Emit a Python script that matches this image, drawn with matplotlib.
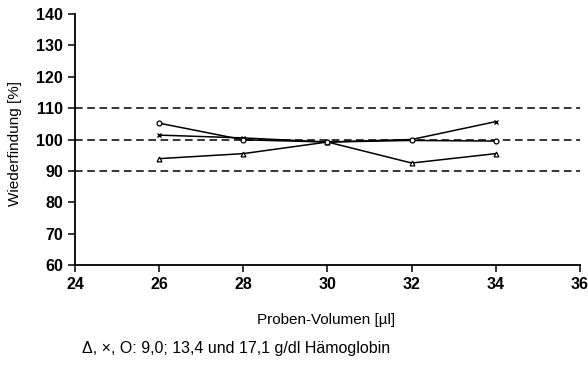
import matplotlib.pyplot as plt

plt.rcParams['font.family'] = ['Liberation Sans', 'DejaVu Sans']

volumen = [26, 28, 30, 32, 34]
hb_9_0 = [93.9, 95.5, 99.2, 92.5, 95.5]     # triangles
hb_13_4 = [101.4, 100.5, 99.2, 100.0, 105.7]  # crosses
hb_17_1 = [105.2, 99.9, 99.2, 99.7, 99.5]   # circles
grenzen = [90, 100, 110]

fig = plt.figure(figsize=(5.88, 3.65), dpi=100)
ax = fig.add_axes([75 / 588, 1 - 265 / 365, (580 - 75) / 588, (265 - 14) / 365])

for g in grenzen:
    ax.axhline(g, color='black', linestyle=(0, (5, 3)), linewidth=1.1, zorder=1)

ax.plot(volumen, hb_9_0, color='black', linewidth=1.1, marker='^', markersize=3.5,
        markerfacecolor='white', markeredgewidth=0.9)
ax.plot(volumen, hb_13_4, color='black', linewidth=1.1, marker='x', markersize=3.5,
        markeredgewidth=1.0)
ax.plot(volumen, hb_17_1, color='black', linewidth=1.1, marker='o', markersize=3.5,
        markerfacecolor='white', markeredgewidth=0.9)

ax.set_xlim(24, 36)
ax.set_ylim(60, 140)
ax.set_xticks(range(24, 37, 2))
ax.set_yticks(range(60, 141, 10))
ax.spines['top'].set_visible(False)
ax.spines['right'].set_visible(False)
for s in ('left', 'bottom'):
    ax.spines[s].set_linewidth(1.3)
ax.tick_params(axis='both', labelsize=11.5, width=1.1, length=5, direction='out')
for lbl in ax.get_xticklabels() + ax.get_yticklabels():
    lbl.set_fontweight('bold')

fig.text(15 / 588, 1 - 144 / 365, 'Wiederfindung [%]', rotation=90, ha='center', va='center',
         fontsize=11)
fig.text(326 / 588, 1 - 320 / 365, 'Proben-Volumen [µl]', ha='center', va='center', fontsize=11)
fig.text(82 / 588, 1 - 348 / 365, '\u0394, \u00d7, O: 9,0; 13,4 und 17,1 g/dl Hämoglobin',
         ha='left', va='center', fontsize=11.5)

fig.savefig('out.png', dpi=100)
